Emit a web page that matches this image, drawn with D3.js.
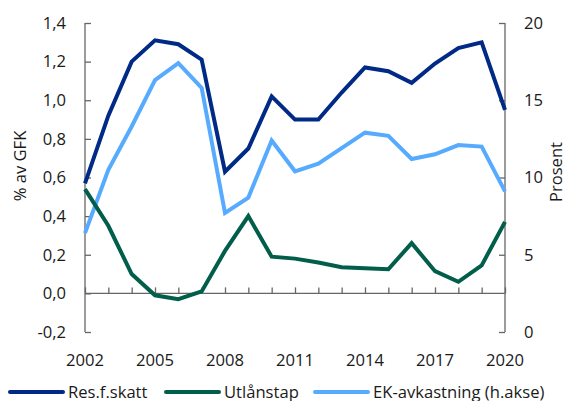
<!DOCTYPE html>
<html><head><meta charset="utf-8">
<script src="https://cdn.jsdelivr.net/npm/d3@7"></script>
<style>body{margin:0;background:#fff}svg{display:block;font-family:"Open Sans",sans-serif}</style>
</head><body>
<script>
const years = d3.range(2002, 2021);
const resFSkatt = [0.57,0.92,1.20,1.31,1.29,1.21,0.63,0.75,1.02,0.90,0.90,1.04,1.17,1.15,1.09,1.19,1.27,1.30,0.95];
const utlanstap = [0.54,0.35,0.10,-0.01,-0.03,0.01,0.22,0.40,0.19,0.18,0.16,0.135,0.13,0.125,0.26,0.115,0.06,0.145,0.37];
const ekAvkastning = [6.4,10.5,13.3,16.3,17.4,15.8,7.7,8.7,12.4,10.4,10.9,11.9,12.9,12.7,11.2,11.5,12.1,12.0,9.1];
const leftTicks = [-0.2,0,0.2,0.4,0.6,0.8,1.0,1.2,1.4];
const rightTicks = [0,5,10,15,20];
const xLabelYears = [2002,2005,2008,2011,2014,2017,2020];
const seriesNames = ["Res.f.skatt","Utlånstap","EK-avkastning (h.akse)"];
const colors = ["#002a86","#005e4a","#56abff"];

const W=567,H=401, FS="16.6px";
const svg=d3.select("body").append("svg").attr("width",W).attr("height",H);
const x=d3.scaleLinear().domain([2002,2020]).range([85,505]);
const yL=d3.scaleLinear().domain([-0.2,1.4]).range([332,23]);
const yR=d3.scaleLinear().domain([0,20]).range([332,23]);
const fmt=d=>d3.format(".1f")(d).replace(".",",").replace("−","-");
const axisColor="#666";

const gl=svg.append("g").attr("transform","translate(85,0)")
  .call(d3.axisLeft(yL).tickValues(leftTicks).tickSize(-6).tickPadding(19).tickFormat(fmt));
const gr=svg.append("g").attr("transform","translate(505,0)")
  .call(d3.axisRight(yR).tickValues(rightTicks).tickSize(-6).tickPadding(19).tickFormat(d3.format("d")));
const gx=svg.append("g").attr("transform",`translate(0,${yL(0)})`)
  .call(d3.axisBottom(x).tickValues(years).tickSize(-6).tickFormat(""));
[gl,gr,gx].forEach(g=>{
  g.select(".domain").attr("stroke",axisColor).attr("stroke-width",1.3);
  g.selectAll(".tick line").attr("stroke",axisColor).attr("stroke-width",1.3);
  g.selectAll("text").attr("fill","#1a1a1a").style("font-size",FS).style("font-family","'Open Sans',sans-serif");
});
gl.select(".domain").attr("d","M0,23V332");
gr.select(".domain").attr("d","M0,23V332");
gx.select(".domain").attr("d",`M85,0H505`);

svg.append("g").selectAll("text").data(xLabelYears).join("text")
  .attr("x",d=>x(d)).attr("y",366).attr("text-anchor","middle")
  .attr("fill","#1a1a1a").style("font-size",FS).text(d=>d);

svg.append("text").attr("transform","translate(26,166) rotate(-90)").attr("text-anchor","middle")
  .attr("fill","#1a1a1a").style("font-size",FS).text("% av GFK");
svg.append("text").attr("transform","translate(562,172) rotate(-90)").attr("text-anchor","middle")
  .attr("fill","#1a1a1a").style("font-size",FS).text("Prosent");

const lineL=d3.line().x((d,i)=>x(years[i])).y(d=>yL(d));
const lineR=d3.line().x((d,i)=>x(years[i])).y(d=>yR(d));
const plot=svg.append("g").attr("fill","none").attr("stroke-width",4).attr("stroke-linejoin","miter");
plot.append("path").attr("d",lineR(ekAvkastning)).attr("stroke",colors[2]);
plot.append("path").attr("d",lineL(utlanstap)).attr("stroke",colors[1]);
plot.append("path").attr("d",lineL(resFSkatt)).attr("stroke",colors[0]);

const legX=[10,166,315];
const lg=svg.append("g");
seriesNames.forEach((n,i)=>{
  lg.append("line").attr("x1",legX[i]).attr("x2",legX[i]+53).attr("y1",392).attr("y2",392)
    .attr("stroke",colors[i]).attr("stroke-width",4).attr("stroke-linecap","round");
  lg.append("text").attr("x",legX[i]+58).attr("y",397.5).attr("fill","#1a1a1a").style("font-size",FS).text(n);
});
</script>
</body></html>
